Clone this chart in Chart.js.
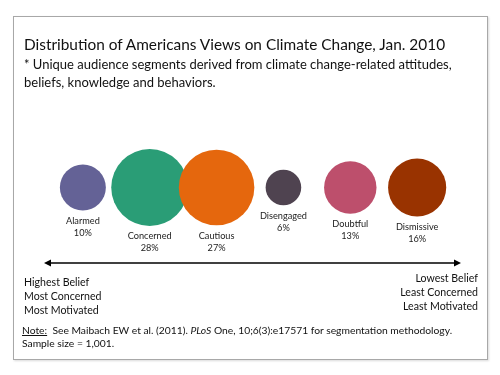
<!DOCTYPE html>
<html>
<head>
<meta charset="utf-8">
<script src="https://cdn.jsdelivr.net/npm/chart.js@4.4.0/dist/chart.umd.min.js"></script>
<style>
  body { margin: 0; background: #fff; }
  #wrap { position: relative; width: 500px; height: 375px; font-family: Lato, "Open Sans", sans-serif; color: #111; }
  #frame { position: absolute; left: 13px; top: 16px; width: 473px; height: 342px; border: 1px solid #a8a8a8; box-shadow: 1px 1px 2px rgba(0,0,0,0.15); }
  canvas { position: absolute; left: 0; top: 0; }
  .txt { position: absolute; white-space: nowrap; }
  #title { left: 24px; top: 35px; font-size: 15.4px; }
  #sub { left: 24px; top: 55px; font-size: 13px; line-height: 18px; }
  #leftLbl { left: 24px; top: 275px; font-size: 10.6px; line-height: 14px; }
  #rightLbl { right: 22px; top: 271px; font-size: 10.6px; line-height: 14px; text-align: right; }
  #note { left: 22px; top: 324px; font-size: 10.3px; line-height: 13px; }
  #note u { text-decoration: underline; }
</style>
</head>
<body>
<div id="wrap">
  <div id="frame"></div>
  <canvas id="chart" width="500" height="375"></canvas>
  <div class="txt" id="title">Distribution of Americans Views on Climate Change, Jan. 2010</div>
  <div class="txt" id="sub">* Unique audience segments derived from climate change-related attitudes,<br>beliefs, knowledge and behaviors.</div>
  <div class="txt" id="leftLbl">Highest Belief<br>Most Concerned<br>Most Motivated</div>
  <div class="txt" id="rightLbl">Lowest Belief<br>Least Concerned<br>Least Motivated</div>
  <div class="txt" id="note"><u>Note:</u>&nbsp; See Maibach EW et al. (2011). <i>PLoS</i> One, 10;6(3):e17571 for segmentation methodology.<br>Sample size = 1,001.</div>
</div>
<script>
const segments = ["Alarmed", "Concerned", "Cautious", "Disengaged", "Doubtful", "Dismissive"];
const percents = [10, 28, 27, 6, 13, 16];
const colors = ["#646296", "#2a9d76", "#e5670d", "#4f4350", "#bd4f6c", "#993300"];

// bubble area proportional to share
const sizeK = 7.27;

const points = segments.map((s, i) => ({ x: i, y: 0, r: sizeK * Math.sqrt(percents[i]) }));

const bubbleLabels = {
  id: "bubbleLabels",
  afterDatasetsDraw(chart) {
    const ctx = chart.ctx;
    const meta = chart.getDatasetMeta(0);
    ctx.save();
    ctx.font = "9.2px Lato, 'Open Sans', sans-serif";
    ctx.fillStyle = "#222";
    ctx.textAlign = "center";
    ctx.textBaseline = "middle";
    meta.data.forEach((el, i) => {
      const r = el.options.radius;
      ctx.fillText(segments[i], el.x, el.y + r + 10.5);
      ctx.fillText(percents[i] + "%", el.x, el.y + r + 22.5);
    });
    ctx.restore();
  }
};

const arrow = {
  id: "arrow",
  afterDraw(chart) {
    const ctx = chart.ctx;
    const y = 263, x1 = 44, x2 = 461;
    ctx.save();
    ctx.strokeStyle = "#000";
    ctx.fillStyle = "#000";
    ctx.lineWidth = 1.5;
    ctx.beginPath();
    ctx.moveTo(x1 + 3, y);
    ctx.lineTo(x2 - 3, y);
    ctx.stroke();
    ctx.beginPath();
    ctx.moveTo(x1, y); ctx.lineTo(x1 + 7, y - 3.5); ctx.lineTo(x1 + 7, y + 3.5); ctx.closePath(); ctx.fill();
    ctx.beginPath();
    ctx.moveTo(x2, y); ctx.lineTo(x2 - 7, y - 3.5); ctx.lineTo(x2 - 7, y + 3.5); ctx.closePath(); ctx.fill();
    ctx.restore();
  }
};

new Chart(document.getElementById("chart").getContext("2d"), {
  type: "bubble",
  data: {
    datasets: [{
      label: "Segments",
      data: points,
      backgroundColor: colors,
      borderColor: colors,
      borderWidth: 0,
      hoverRadius: 0,
      clip: false
    }]
  },
  options: {
    responsive: false,
    animation: false,
    layout: { autoPadding: false, padding: { left: 16, right: 16, top: 100, bottom: 100 } },
    scales: {
      x: { type: "linear", min: -1, max: 6, display: false },
      y: { type: "linear", min: -1, max: 1, display: false }
    },
    plugins: {
      legend: { display: false },
      tooltip: { enabled: false }
    }
  },
  plugins: [bubbleLabels, arrow]
});
</script>
</body>
</html>
